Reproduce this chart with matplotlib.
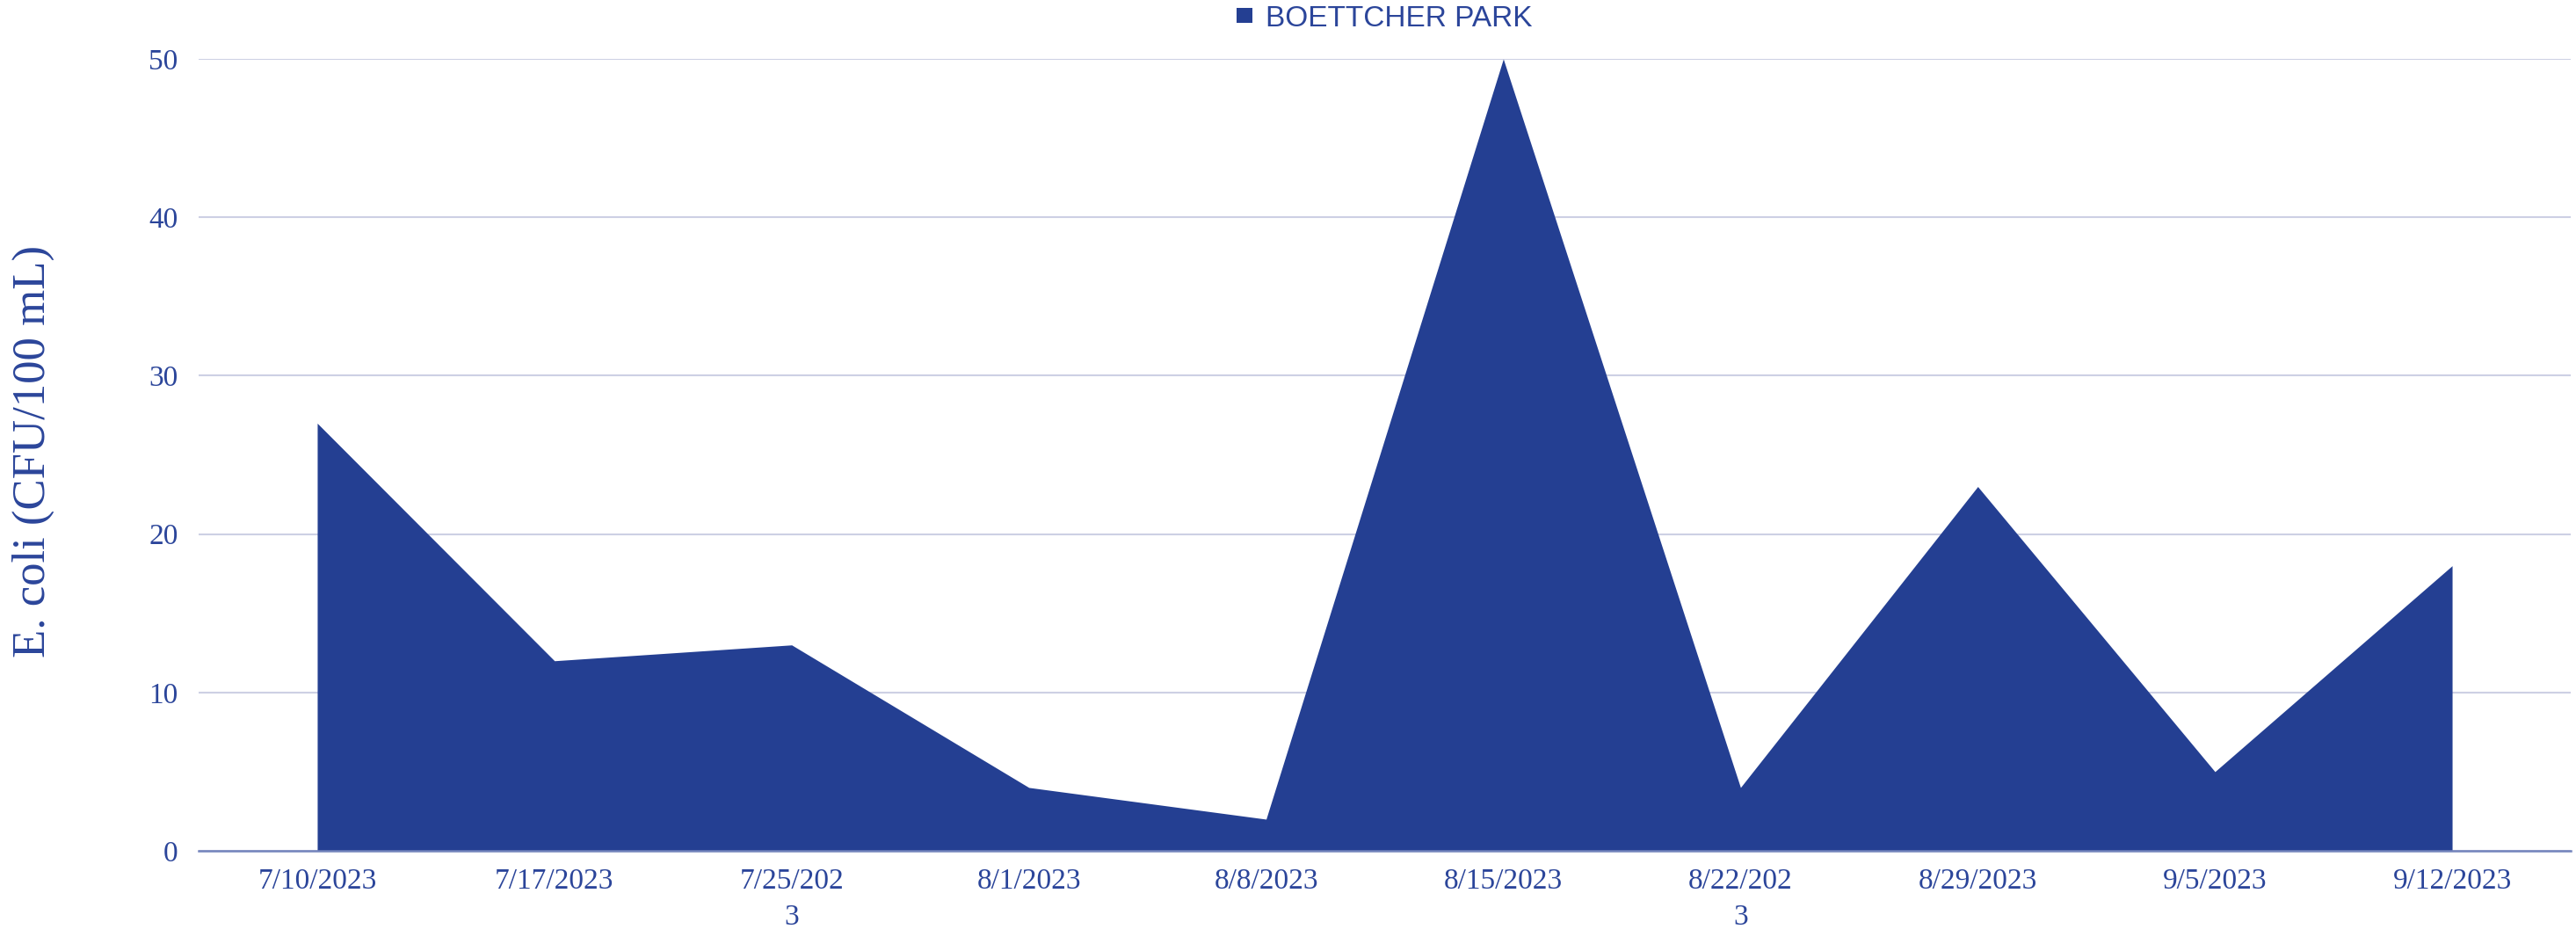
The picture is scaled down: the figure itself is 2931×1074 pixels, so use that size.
# Boettcher Park E. coli area chart

import numpy as np
import matplotlib.pyplot as plt
from matplotlib.patches import Patch

# data
dates = ['7/10/2023', '7/17/2023', '7/25/202\n3', '8/1/2023', '8/8/2023',
         '8/15/2023', '8/22/202\n3', '8/29/2023', '9/5/2023', '9/12/2023']
ecoli = [27, 12, 13, 4, 2, 50, 4, 23, 5, 18]
yticks = [0, 10, 20, 30, 40, 50]
series_name = 'BOETTCHER PARK'

blue = '#243F92'
txt = '#2B459A'
grid_col = '#CDD0E4'

fig = plt.figure(figsize=(29.31, 10.74), dpi=100)
ax = fig.add_axes([226/2931, 1 - 968/1074, (2925 - 226)/2931, (968 - 67)/1074])

x = np.arange(len(dates))
ax.fill_between(x, ecoli, 0, color=blue, linewidth=0, zorder=2)

ax.set_xlim(-0.5, len(dates) - 0.5)
ax.set_ylim(0, 50)
ax.set_yticks(yticks)
ax.set_xticks(x)
ax.set_xticklabels(dates, fontfamily='Liberation Serif', fontsize=24,
                   color=txt, linespacing=1.45)
ax.set_yticklabels([str(v) for v in yticks], fontfamily='Liberation Serif',
                   fontsize=24, color=txt)
ax.tick_params(axis='both', length=0)
ax.tick_params(axis='x', pad=14)
ax.tick_params(axis='y', pad=17)

ax.grid(axis='y', color=grid_col, linewidth=1.5, zorder=0)
ax.set_axisbelow(True)
for s in ['top', 'right', 'left']:
    ax.spines[s].set_visible(False)
ax.spines['bottom'].set_color('#7384BC')
ax.spines['bottom'].set_linewidth(1.8)
ax.spines['bottom'].set_zorder(3)

fig.text(38/2931, 1 - 513/1074, 'E. coli (CFU/100 mL)', rotation=90,
         fontfamily='Liberation Serif', fontsize=38, color=txt,
         ha='center', va='center')

leg = ax.legend(handles=[Patch(facecolor=blue, edgecolor='none', label=series_name)],
                loc='center', bbox_to_anchor=(0.5, 1 + (67 - 21)/901),
                frameon=False, handlelength=0.55, handleheight=0.4,
                handletextpad=0.45, borderaxespad=0,
                prop={'family': 'Liberation Sans', 'size': 24})
for t in leg.get_texts():
    t.set_color(txt)

fig.savefig('out.png', dpi=100)
